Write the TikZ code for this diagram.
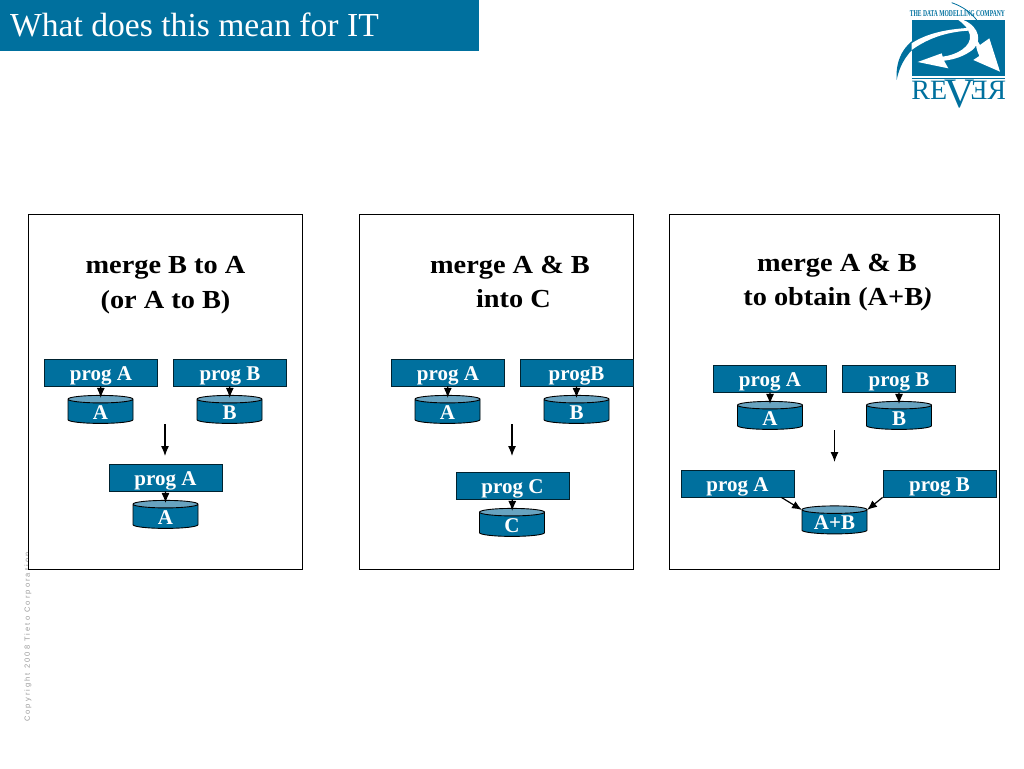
\documentclass[tikz,border=0pt]{standalone}
\usepackage{fontspec}
\setmainfont{Liberation Serif}
\setsansfont{Liberation Sans}
\usetikzlibrary{shapes.geometric,arrows.meta}
\definecolor{tealblue}{RGB}{0,112,158}
\definecolor{tealtop}{RGB}{104,163,192}
\tikzset{
 panel/.style={draw=black,line width=0.8pt,fill=white},
 progbox/.style={draw=black!70!tealblue,line width=0.8pt,fill=tealblue,text=white,minimum width=113pt,minimum height=27pt,inner sep=0pt,text height=21pt,text depth=6pt,font=\fontsize{21}{21}\selectfont\bfseries},
 diskbox/.style={cylinder,shape border rotate=90,draw=black,line width=0.9pt,cylinder uses custom fill,cylinder body fill=tealblue,cylinder end fill=tealtop,aspect=0.25,minimum width=65pt,minimum height=28pt,inner sep=0pt,text=white,font=\fontsize{21}{21}\selectfont\bfseries},
 heading/.style={anchor=base,font=\fontsize{26}{26}\selectfont\bfseries,inner sep=0pt,xscale=1.09},
 flow/.style={-{Latex[length=10pt,width=8pt]},line width=1.2pt},
}
\newcommand{\progbox}[4]{% name, xcenter, ycenter, text
\node[progbox] (#1) at (#2,#3) {#4};
}
\newcommand{\diskbox}[4]{% name, xcenter, ycenter, text
\node[diskbox] (#1) at (#2,#3) {\makebox[30pt]{\smash{\raisebox{-7.5pt}{#4}}}};
}
\newcommand{\progdisk}[2]{% prog node, disk node
\draw[flow,shorten >=-3pt] (#1) -- (#2);
}
\begin{document}
\begin{tikzpicture}[x=1pt,y=-1pt]
\useasboundingbox (0,0) rectangle (1024,768);

% title bar
\fill[tealblue] (0,0) rectangle (479,51);
\node[anchor=base west,inner sep=0pt,text=white,font=\fontsize{33.6}{33.6}\selectfont] (title) at (10,37) {What does this mean for IT};

% logo
\begin{scope}[shift={(880,0)},x=0.3333pt,y=-0.3333pt]
\fill[tealblue] (95,60) rectangle (375,228);
\node[anchor=base,inner sep=0pt,text=tealblue,font=\fontsize{9}{9}\selectfont\bfseries,xscale=0.62] (company) at (232,50) {THE DATA MODELLING COMPANY};
\draw[tealblue,line width=0.8pt] (215,8) .. controls (250,20) and (275,40) .. (290,60);
\fill[white] (250,60) .. controls (300,80) and (310,130) .. (270,155) .. controls (240,175) and (210,180) .. (192,182) -- (205,205) -- (113,186) -- (185,160) -- (188,170) .. controls (230,165) and (275,140) .. (270,105) .. controls (265,85) and (250,70) .. (235,60) -- cycle;
\fill[tealblue] (50,240) .. controls (45,170) and (80,120) .. (140,100) .. controls (180,88) and (230,85) .. (262,92) .. controls (220,95) and (170,105) .. (130,125) .. controls (85,150) and (60,190) .. (50,240) -- cycle;
\fill[white] (95,130) .. controls (140,100) and (200,88) .. (262,84) -- (266,92) .. controls (210,95) and (150,110) .. (95,150) -- cycle;
\fill[white] (360,215) -- (280,180) -- (298,168) .. controls (290,150) and (285,135) .. (290,118) -- (300,135) -- (328,115) -- cycle;
\draw[tealblue,line width=1pt] (95,236) -- (375,236);
\node[anchor=base,inner sep=0pt,text=tealblue,font=\fontsize{28}{28}\selectfont] (logora) at (148,299) {RE};
\node[anchor=base,inner sep=0pt,text=tealblue,font=\fontsize{28}{28}\selectfont] (logorb) at (325,299) {\reflectbox{RE}};
\node[anchor=base,inner sep=0pt,text=tealblue,font=\fontsize{42}{42}\selectfont] (logov) at (240,322) {V};
\end{scope}

% copyright
\node[rotate=90,anchor=west,inner sep=0pt,text=black!40,font=\fontsize{7.5}{7.5}\sffamily\addfontfeature{LetterSpace=28}] (copy) at (28,722) {Copyright 2008 Tieto Corporation};

% panels
\draw[panel] (28,214) rectangle (302,569);
\draw[panel] (359,214) rectangle (633,569);
\draw[panel] (669,214) rectangle (999,569);

% first panel
\node[heading] (headaa) at (165.5,273) {merge B to A};
\node[heading] (headab) at (165.5,308) {(or A to B)};
\diskbox{daa}{100.5}{411.5}{A}
\diskbox{dab}{229.5}{411.5}{B}
\diskbox{dac}{165.5}{516.5}{A}
\progbox{paa}{101}{372.5}{prog A}
\progbox{pab}{230}{372.5}{prog B}
\progbox{pac}{165.5}{477.5}{prog A}
\progdisk{paa}{daa}
\progdisk{pab}{dab}
\progdisk{pac}{dac}
\coordinate (ma) at (165,424);
\coordinate (mb) at (165,456);
\draw[flow] (ma) -- (mb);

% second panel
\node[heading] (headba) at (510,273) {merge A \& B};
\node[heading] (headbb) at (513.5,307) {into C};
\diskbox{dba}{447.5}{411.5}{A}
\diskbox{dbb}{576.5}{411.5}{B}
\diskbox{dbc}{512}{524.5}{C}
\progbox{pba}{448}{372.5}{prog A}
\progbox{pbb}{576.5}{372.5}{progB}
\progbox{pbc}{512.5}{485.5}{prog C}
\progdisk{pba}{dba}
\progdisk{pbb}{dbb}
\progdisk{pbc}{dbc}
\coordinate (na) at (512,424);
\coordinate (nb) at (512,456);
\draw[flow] (na) -- (nb);

% third panel
\node[heading] (headca) at (837,271.5) {merge A \& B};
\node[heading] (headcb) at (838,305.5) {to obtain (A+B\textit{)}};
\diskbox{dca}{770}{417.5}{A}
\diskbox{dcb}{899}{417.5}{B}
\diskbox{dcc}{834.5}{522}{A+B}
\progbox{pca}{770}{378.5}{prog A}
\progbox{pcb}{899}{378.5}{prog B}
\progbox{pcc}{737.5}{483.5}{prog A}
\progbox{pcd}{939.5}{483.5}{prog B}
\progdisk{pca}{dca}
\progdisk{pcb}{dcb}
\coordinate (oa) at (834.5,430);
\coordinate (ob) at (834.5,462);
\draw[flow] (oa) -- (ob);
\draw[flow] ([xshift=-13pt]pcc.south east) -- ([xshift=-32.5pt,yshift=12pt]dcc.center);
\draw[flow] (pcd.south west) -- ([xshift=32.5pt,yshift=12pt]dcc.center);
\end{tikzpicture}
\end{document}
